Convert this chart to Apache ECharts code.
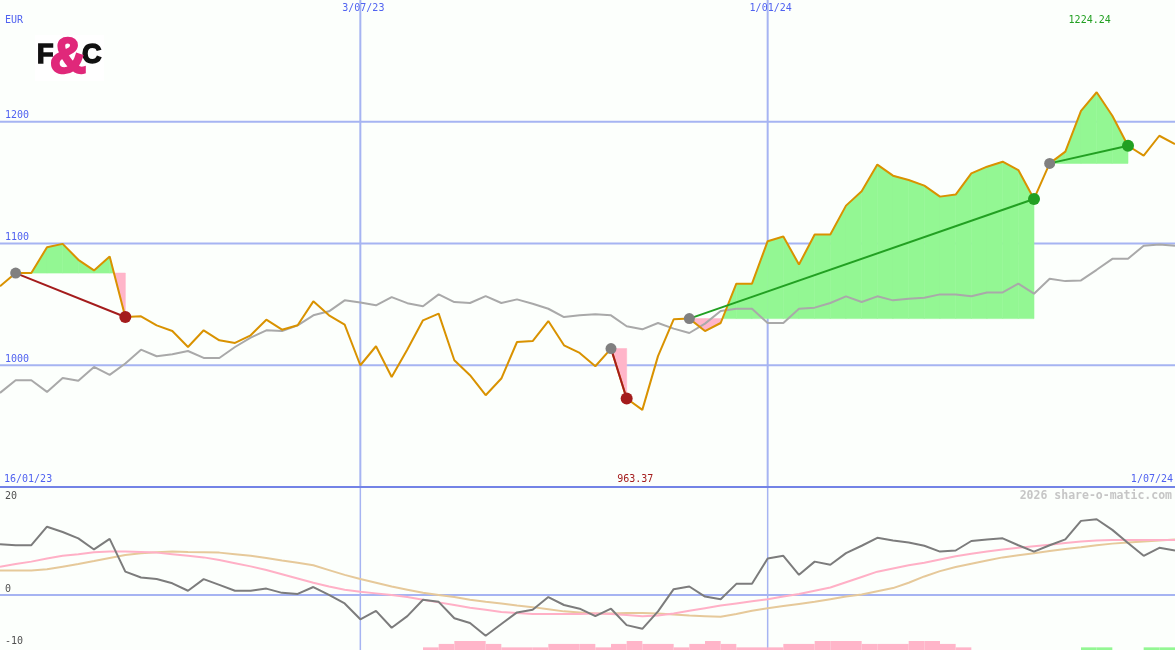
<!DOCTYPE html>
<html><head><meta charset="utf-8">
<script src="https://cdn.jsdelivr.net/npm/echarts@6/dist/echarts.min.js"></script>
<style>html,body{margin:0;padding:0;background:#fcfffc}#c{width:1175px;height:650px}</style>
</head><body><div id="c"></div>
<script>
// ---- data (weekly points, index 0 = first week) ----
const price = [1064.8, 1075.7, 1075.7, 1097.0, 1099.7, 1086.6, 1077.9, 1089.3, 1039.6, 1040.2,
  1032.8, 1028.1, 1015.0, 1028.7, 1020.5, 1018.3, 1024.6, 1037.4, 1029.2, 1032.8,
  1052.5, 1041.0, 1033.3, 1000.0, 1015.6, 990.4, 1013.0, 1036.9, 1042.4, 1004.1,
  991.8, 975.4, 989.1, 1019.1, 1019.9, 1036.3, 1016.4, 1010.1, 999.2, 1013.7,
  972.7, 963.37, 1007.5, 1037.7, 1038.3, 1028.1, 1034.7, 1067.0, 1067.0, 1101.9,
  1105.7, 1082.8, 1107.4, 1107.4, 1131.1, 1142.9, 1164.8, 1155.7, 1152.2, 1147.5,
  1138.5, 1140.2, 1157.6, 1163.1, 1167.2, 1160.3, 1136.6, 1165.8, 1175.5, 1209.0,
  1224.24, 1204.9, 1180.3, 1172.1, 1188.5, 1181.7];
const benchmark = [977.3, 987.7, 987.7, 978.1, 989.6, 987.2, 998.6, 992.1, 1001.4, 1012.8,
  1007.4, 1009.0, 1011.7, 1006.0, 1006.0, 1015.0, 1022.7, 1028.7, 1028.1, 1032.8,
  1041.0, 1044.3, 1053.3, 1051.6, 1049.2, 1056.0, 1051.0, 1048.4, 1058.2, 1051.9,
  1051.1, 1056.8, 1051.1, 1054.1, 1050.5, 1046.4, 1039.6, 1041.0, 1041.8, 1041.0,
  1032.0, 1029.5, 1034.7, 1030.1, 1026.5, 1034.2, 1044.5, 1046.4, 1046.4, 1034.7,
  1034.7, 1046.4, 1047.3, 1051.1, 1056.6, 1051.9, 1056.6, 1053.3, 1054.7, 1055.5,
  1058.2, 1058.2, 1056.6, 1059.8, 1059.8, 1067.0, 1058.8, 1071.0, 1069.1, 1069.7,
  1078.4, 1087.4, 1087.4, 1098.1, 1099.2, 1098.1];
const momentum = [9.6, 9.4, 9.4, 12.9, 11.9, 10.7, 8.6, 10.6, 4.4, 3.3,
  3.0, 2.2, 0.8, 3.0, 1.9, 0.8, 0.8, 1.2, 0.4, 0.2,
  1.5, 0.0, -1.6, -4.6, -3.0, -6.2, -4.0, -0.9, -1.3, -4.4,
  -5.3, -7.7, -5.5, -3.3, -2.8, -0.4, -1.9, -2.6, -4.0, -2.6,
  -5.7, -6.4, -3.1, 1.1, 1.6, -0.3, -0.8, 2.1, 2.1, 6.9,
  7.4, 3.8, 6.3, 5.7, 7.9, 9.3, 10.8, 10.3, 9.9, 9.3,
  8.2, 8.4, 10.2, 10.5, 10.7, 9.4, 8.2, 9.4, 10.5, 14.0,
  14.3, 12.3, 9.8, 7.4, 8.9, 8.4];
const maFast = [5.35, 5.85, 6.3, 6.9, 7.4, 7.7, 8.05, 8.2, 8.2, 8.1,
  8.0, 7.7, 7.4, 7.1, 6.6, 6.0, 5.4, 4.7, 3.9, 3.1,
  2.3, 1.6, 1.0, 0.6, 0.3, 0.0, -0.4, -0.9, -1.4, -1.9,
  -2.4, -2.8, -3.2, -3.4, -3.6, -3.6, -3.6, -3.6, -3.5, -3.6,
  -3.8, -4.0, -3.9, -3.5, -3.0, -2.5, -2.0, -1.6, -1.2, -0.8,
  -0.3, 0.2, 0.8, 1.4, 2.4, 3.4, 4.4, 5.0, 5.6, 6.1,
  6.7, 7.3, 7.8, 8.2, 8.6, 8.9, 9.2, 9.5, 9.8, 10.1,
  10.3, 10.4, 10.4, 10.4, 10.4, 10.4];
const maSlow = [4.6, 4.6, 4.6, 4.85, 5.35, 5.85, 6.4, 7.0, 7.55, 7.9,
  8.05, 8.2, 8.1, 8.05, 8.0, 7.7, 7.4, 7.0, 6.5, 6.1,
  5.6, 4.7, 3.8, 3.0, 2.3, 1.6, 1.0, 0.4, 0.0, -0.4,
  -0.9, -1.3, -1.6, -2.0, -2.3, -2.7, -3.1, -3.3, -3.5, -3.5,
  -3.4, -3.4, -3.5, -3.7, -3.9, -4.0, -4.1, -3.6, -3.0, -2.5,
  -2.1, -1.7, -1.3, -0.8, -0.3, 0.1, 0.7, 1.3, 2.3, 3.5,
  4.5, 5.3, 5.9, 6.5, 7.1, 7.5, 7.9, 8.3, 8.7, 9.0,
  9.4, 9.7, 9.9, 10.1, 10.3, 10.5];
// signal strip: negative = sell (pink), positive = buy (green)
const signalBars = [0, 0, 0, 0, 0, 0, 0, 0, 0, 0,
  0, 0, 0, 0, 0, 0, 0, 0, 0, 0,
  0, 0, 0, 0, 0, 0, 0, -0.5, -1.15, -1.7,
  -1.7, -1.15, -0.5, -0.5, -0.5, -1.15, -1.15, -1.15, -0.5, -1.15,
  -1.7, -1.15, -1.15, -0.5, -1.15, -1.7, -1.15, -0.5, -0.5, -0.5,
  -1.15, -1.15, -1.7, -1.7, -1.7, -1.15, -1.15, -1.15, -1.7, -1.7,
  -1.15, -0.5, 0, 0, 0, 0, 0, 0, 0, 0.5,
  0.5, 0, 0, 0.5, 0.5, 0];
const trades = [
  { entry: 1, exit: 8 },
  { entry: 39, exit: 40 },
  { entry: 44, exit: 66 },
  { entry: 67, exit: 72 }
];
const dateTicks = [{ idx: 23, label: '3/07/23' }, { idx: 49, label: '1/01/24' }];
const priceLevels = [1000, 1100, 1200];
const oscLevels = [0];
const oscLabels = [20, 0, -10];
const rangeStart = '16/01/23';
const rangeEnd = '1/07/24';
const currency = 'EUR';
const watermark = '2026 share-o-matic.com';

// ---- styles ----
const P_MIN = 900, P_MAX = 1300, O_MIN = -10.4, O_MAX = 20.4, X_MAX = price.length - 1;
const BLUE_TEXT = '#5062f0', GRID = '#a6b4f2', SEP = '#7383e6';
const ORANGE = '#d99200', BENCH = '#a9a9a9';
const GREEN_FILL = '#93f793', PINK_FILL = '#ffb5c9';
const RED = '#a41c1c', GREEN = '#22a022', ENTRY = '#808080';
const MOM = '#7c7c7c', MA_FAST = '#ffb0c6', MA_SLOW = '#e6c99a';
const MONO = '"DejaVu Sans Mono", monospace';

const chart = echarts.init(document.getElementById('c'), null, { renderer: 'canvas' });

function vLines(yMin, yMax, width) {
  return function (params, api) {
    const x = api.value(0);
    const a = api.coord([x, yMax]), b = api.coord([x, yMin]);
    return { type: 'line', shape: { x1: a[0], y1: a[1], x2: b[0], y2: b[1] }, style: { stroke: GRID, lineWidth: width } };
  };
}
function hLines(width) {
  return function (params, api) {
    const v = api.value(1);
    const a = api.coord([0, v]), b = api.coord([X_MAX, v]);
    return { type: 'line', shape: { x1: a[0], y1: a[1], x2: b[0], y2: b[1] }, style: { stroke: GRID, lineWidth: width } };
  };
}
// fill between a trade's entry level and the price, one segment per item
function tradeFill(params, api) {
  const i = api.value(0), a = api.value(1), b = api.value(2), base = api.value(3);
  const c = (x, y) => api.coord([x, y]);
  const poly = (pts, color) => ({ type: 'polygon', shape: { points: pts },
    style: { fill: color, stroke: color, lineWidth: 0.6 } });
  const colorOf = v => (v >= base ? GREEN_FILL : PINK_FILL);
  if ((a - base) * (b - base) >= 0) {
    const col = (a === base ? colorOf(b) : colorOf(a));
    return poly([c(i, base), c(i, a), c(i + 1, b), c(i + 1, base)], col);
  }
  const t = (a - base) / (a - b);
  const xm = i + t;
  return { type: 'group', children: [
    poly([c(i, base), c(i, a), c(xm, base)], colorOf(a)),
    poly([c(xm, base), c(i + 1, b), c(i + 1, base)], colorOf(b))
  ] };
}

const fillSegments = [];
trades.forEach(t => {
  for (let i = t.entry; i < t.exit; i++) fillSegments.push([i, price[i], price[i + 1], price[t.entry]]);
});

const series = [];
series.push({ type: 'custom', xAxisIndex: 0, yAxisIndex: 0, z: 0, silent: true,
  data: dateTicks.map(d => [d.idx, P_MIN]), renderItem: vLines(P_MIN, P_MAX, 2) });
series.push({ type: 'custom', xAxisIndex: 0, yAxisIndex: 0, z: 0, silent: true,
  data: priceLevels.map(v => [0, v]), renderItem: hLines(2) });
series.push({ type: 'custom', xAxisIndex: 0, yAxisIndex: 0, z: 1, silent: true,
  dimensions: ['x', 'y', 'y2', 'base'], encode: { x: 0, y: [1, 2, 3] },
  data: fillSegments, renderItem: tradeFill });
series.push({ type: 'line', xAxisIndex: 0, yAxisIndex: 0, z: 2, silent: true, symbol: 'none',
  data: benchmark.map((v, i) => [i, v]), lineStyle: { color: BENCH, width: 2 } });
series.push({ type: 'line', xAxisIndex: 0, yAxisIndex: 0, z: 3, silent: true, symbol: 'none',
  data: price.map((v, i) => [i, v]), lineStyle: { color: ORANGE, width: 2 } });
trades.forEach(t => {
  const win = price[t.exit] >= price[t.entry];
  series.push({ type: 'line', xAxisIndex: 0, yAxisIndex: 0, z: 4, silent: true, symbol: 'none',
    data: [[t.entry, price[t.entry]], [t.exit, price[t.exit]]],
    lineStyle: { color: win ? GREEN : RED, width: 2 } });
});
series.push({ type: 'scatter', xAxisIndex: 0, yAxisIndex: 0, z: 5, silent: true, symbolSize: 11,
  data: trades.map(t => [t.entry, price[t.entry]]), itemStyle: { color: ENTRY, opacity: 1 } });
series.push({ type: 'scatter', xAxisIndex: 0, yAxisIndex: 0, z: 5, silent: true, symbolSize: 12,
  data: trades.map(t => ({ value: [t.exit, price[t.exit]],
    itemStyle: { color: price[t.exit] >= price[t.entry] ? GREEN : RED, opacity: 1 } })) });
// oscillator panel
series.push({ type: 'custom', xAxisIndex: 1, yAxisIndex: 1, z: 0, silent: true,
  data: dateTicks.map(d => [d.idx, O_MIN]), renderItem: vLines(O_MIN, O_MAX, 1.5) });
series.push({ type: 'custom', xAxisIndex: 1, yAxisIndex: 1, z: 0, silent: true,
  data: oscLevels.map(v => [0, v]), renderItem: hLines(2) });
series.push({ type: 'custom', xAxisIndex: 1, yAxisIndex: 1, z: 1, silent: true,
  data: signalBars.map((h, i) => [i, h]).filter(d => d[1] !== 0),
  renderItem: function (params, api) {
    const i = api.value(0), h = api.value(1);
    const p0 = api.coord([i, O_MIN]);
    const p1 = api.coord([i + 1, O_MIN + Math.abs(h)]);
    return { type: 'rect', shape: { x: p0[0], y: p1[1], width: p1[0] - p0[0], height: p0[1] - p1[1] },
      style: { fill: h < 0 ? PINK_FILL : GREEN_FILL } };
  } });
series.push({ type: 'line', xAxisIndex: 1, yAxisIndex: 1, z: 2, silent: true, symbol: 'none',
  data: maSlow.map((v, i) => [i, v]), lineStyle: { color: MA_SLOW, width: 2 } });
series.push({ type: 'line', xAxisIndex: 1, yAxisIndex: 1, z: 2, silent: true, symbol: 'none',
  data: maFast.map((v, i) => [i, v]), lineStyle: { color: MA_FAST, width: 2 } });
series.push({ type: 'line', xAxisIndex: 1, yAxisIndex: 1, z: 3, silent: true, symbol: 'none',
  data: momentum.map((v, i) => [i, v]), lineStyle: { color: MOM, width: 2 } });

chart.setOption({
  animation: false,
  backgroundColor: '#fcfffc',
  grid: [
    { left: 0, right: 0, top: 0, height: 487 },
    { left: 0, right: 0, top: 487, height: 163 }
  ],
  xAxis: [
    { type: 'value', gridIndex: 0, min: 0, max: X_MAX, position: 'bottom',
      axisLine: { show: true, onZero: false, lineStyle: { color: SEP, width: 2 } },
      axisTick: { show: false }, axisLabel: { show: false }, splitLine: { show: false } },
    { type: 'value', gridIndex: 1, min: 0, max: X_MAX, show: false, splitLine: { show: false } }
  ],
  yAxis: [
    { type: 'value', gridIndex: 0, min: P_MIN, max: P_MAX, interval: 100,
      axisLine: { show: false }, axisTick: { show: false }, splitLine: { show: false },
      axisLabel: { inside: true, margin: 5, verticalAlign: 'bottom', color: BLUE_TEXT,
        fontFamily: 'DejaVu Sans Mono', fontSize: 10, showMinLabel: false, showMaxLabel: false,
        padding: [0, 0, 1, 0], formatter: v => String(v) } },
    { type: 'value', gridIndex: 1, min: O_MIN, max: O_MAX, show: false, splitLine: { show: false } }
  ],
  series
});

// ---- texts positioned through the axes ----
const px = (g, x, y) => chart.convertToPixel({ gridIndex: g }, [x, y]);
let minIdx = 0, maxIdx = 0;
price.forEach((v, i) => { if (v < price[minIdx]) minIdx = i; if (v > price[maxIdx]) maxIdx = i; });
const txt = (text, x, y, fill, align, font, strokeW) => ({ type: 'text', silent: true, z: 100, x, y,
  style: Object.assign({ text, fill, align, verticalAlign: 'middle', font: font || ('10px ' + MONO) },
    strokeW ? { stroke: fill, lineWidth: strokeW } : {}) });
const graphics = [];
graphics.push(txt(currency, 5, 20, BLUE_TEXT, 'left'));
dateTicks.forEach(d => graphics.push(txt(d.label, px(0, d.idx, P_MAX)[0] + 3, 8, BLUE_TEXT, 'center')));
graphics.push(txt(rangeStart, 4, 479, BLUE_TEXT, 'left'));
graphics.push(txt(rangeEnd, 1173, 479, BLUE_TEXT, 'right'));
graphics.push(txt(price[minIdx].toFixed(2), px(0, minIdx, price[minIdx])[0] - 7, 479, RED, 'center'));
graphics.push(txt(price[maxIdx].toFixed(2), px(0, maxIdx, price[maxIdx])[0] - 7, 20, GREEN, 'center'));
graphics.push(txt(watermark, 1172, 496, '#c6c6c6', 'right', 'bold 11.5px ' + MONO));
oscLabels.forEach(v => graphics.push(txt(String(v), 5, Math.max(px(1, 0, v)[1] - 6, 496), '#505050', 'left')));
// logo
graphics.push({ type: 'rect', silent: true, z: 90, shape: { x: 35, y: 35, width: 69, height: 46 }, style: { fill: '#ffffff' } });
graphics.push(txt('F', 37, 56, '#111111', 'left', 'bold 27px "Liberation Sans", Arial', 1.5));
graphics.push(txt('C', 82, 56, '#111111', 'left', 'bold 27px "Liberation Sans", Arial', 1.5));
graphics.push(txt('&', 50, 59, '#e0287a', 'left', 'bold 50px "Liberation Sans", Arial', 2.5));
chart.setOption({ graphic: graphics });
</script></body></html>
